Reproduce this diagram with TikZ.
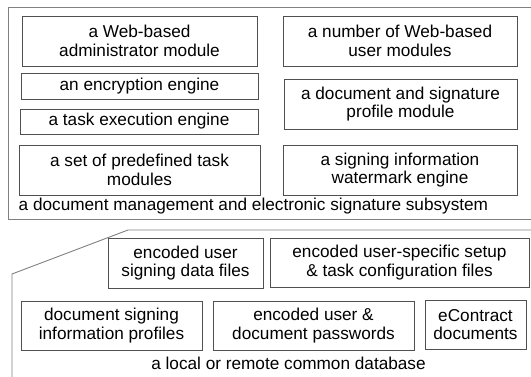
\documentclass[tikz,border=0pt]{standalone}
\usepackage{fontspec}
\setmainfont{Liberation Sans}
\usepackage{tikz}

\begin{document}
\begin{tikzpicture}[x=1pt,y=-1pt,
  modbox/.style={draw=boxline,line width=0.9pt,align=center,inner sep=0pt,
    font=\fontsize{17.2}{18.6}\selectfont,text=black},
  plainlabel/.style={inner sep=0pt,font=\fontsize{17.2}{18.6}\selectfont,text=black}]
% Define colours
\definecolor{boxline}{RGB}{80,80,80}
\definecolor{frameline}{RGB}{128,128,128}

\useasboundingbox (0,0) rectangle (531,376);
\clip (0,0) rectangle (531,376);

% Draw subsystem frame
\draw[frameline,line width=0.9pt] (545,7) -- (8,7) -- (8,219) -- (545,219);
\node[modbox,minimum width=235,minimum height=50] (admin) at (139.5,41) {a Web-based\\administrator module};
\node[modbox,minimum width=234,minimum height=50] (usermods) at (400,41) {a number of Web-based\\user modules};
\node[modbox,minimum width=237,minimum height=26] (encrypt) at (139.5,86) {an encryption engine};
\node[modbox,minimum width=238,minimum height=25] (taskexec) at (139,121.5) {a task execution engine};
\node[modbox,minimum width=233,minimum height=50] (profile) at (400.5,104) {a document and signature\\profile module};
\node[modbox,minimum width=241,minimum height=50] (tasks) at (139.5,170) {a set of predefined task\\modules};
\node[modbox,minimum width=234,minimum height=50] (watermark) at (400,170) {a signing information\\watermark engine};
\node[plainlabel,anchor=base west] (subsys) at (18.5,210) {a document management and electronic signature subsystem};

% Draw database frame
\draw[frameline,line width=0.9pt] (12,385) -- (12,274) -- (128,230) -- (545,230);
\node[modbox,minimum width=155,minimum height=50] (signdata) at (185.5,263) {encoded user\\signing data files};
\node[modbox,minimum width=259,minimum height=49] (setup) at (399.5,262.5) {encoded user-specific setup\\\& task configuration files};
\node[modbox,minimum width=181,minimum height=49] (signprof) at (111.5,325.5) {document signing\\information profiles};
\node[modbox,minimum width=201,minimum height=49] (passwords) at (313.5,325.5) {encoded user \&\\document passwords};
\node[modbox,minimum width=101,minimum height=49] (econtract) at (475.5,324.5) {eContract\\documents};
\node[plainlabel,anchor=base] (database) at (288.5,369) {a local or remote common database};
\end{tikzpicture}
\end{document}
